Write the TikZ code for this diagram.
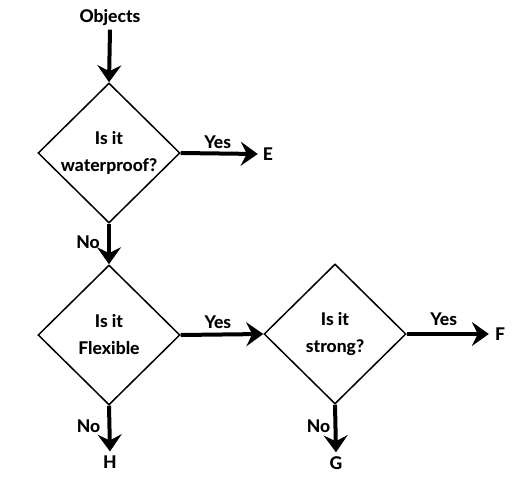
\documentclass[tikz,border=0pt]{standalone}
\usepackage{fontspec}
\setmainfont{Lato}[BoldFont={Lato Heavy}]
\usetikzlibrary{shapes.geometric,arrows.meta}
\begin{document}
\begin{tikzpicture}[x=1pt,y=-1pt,
  font=\fontsize{17.5}{27}\selectfont\bfseries,
  dec/.style={draw, shape=diamond, line width=1.5pt, minimum width=142pt,
    minimum height=140pt, inner sep=0pt, align=center},
  flow/.style={line width=4pt, -{Stealth[length=17pt,width=24pt,inset=6pt]}},
  lbl/.style={inner sep=0pt}]
\useasboundingbox (0,0) rectangle (527,484);
\node (obj) at (110,18) {Objects};
\node[dec] (d1) at (109,153) {Is it\\waterproof?};
\node[dec] (d2) at (109,335) {Is it\\Flexible};
\node[dec] (d3) at (335,334) {Is it\\strong?};
\node[inner sep=2pt] (E) at (268,154) {E};
\node[inner sep=2pt] (F) at (500,334) {F};
\node[inner sep=2pt] (H) at (110,462) {H};
\node[inner sep=2pt] (G) at (336,463) {G};
\draw[flow] (obj.south) -- (d1.north);
\draw[flow] (d1.east) -- node[lbl, pos=0.48, yshift=11pt] {Yes} ([xshift=-3pt]E.west);
\draw[flow] (d1.south) -- node[lbl, pos=0.45, xshift=-21pt] {No} (d2.north);
\draw[flow] (d2.east) -- node[lbl, pos=0.45, yshift=12pt] {Yes} (d3.west);
\draw[flow] (d3.east) -- node[lbl, pos=0.45, yshift=15pt] {Yes} ([xshift=-4pt]F.west);
\draw[flow] (d2.south) -- node[lbl, pos=0.45, xshift=-21pt] {No} ([yshift=2pt]H.north);
\draw[flow] (d3.south) -- node[lbl, pos=0.45, xshift=-17pt] {No} ([yshift=2pt]G.north);
\end{tikzpicture}
\end{document}
